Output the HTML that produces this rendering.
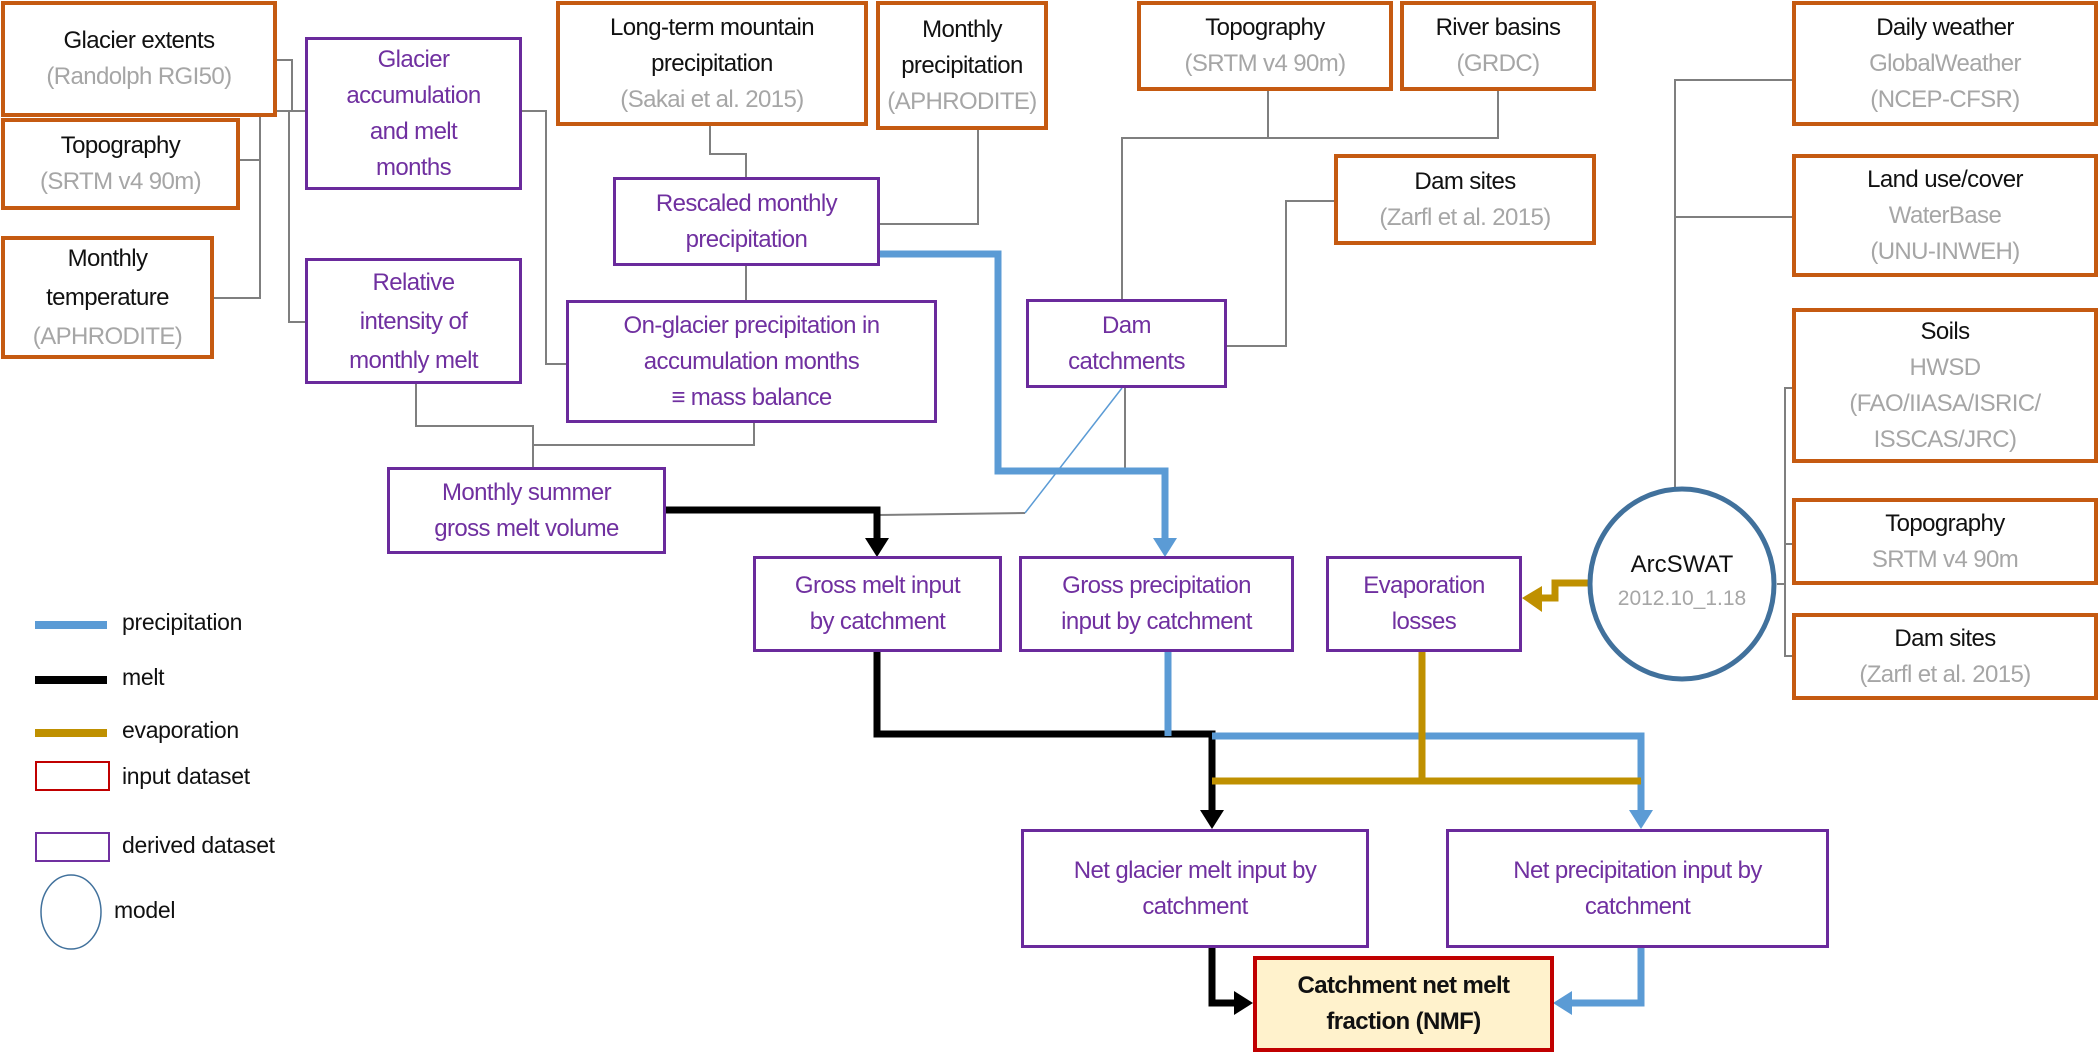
<!DOCTYPE html>
<html><head><meta charset="utf-8"><style>
body{margin:0;width:2100px;height:1050px;background:#fff;position:relative;overflow:hidden;font-family:"Liberation Sans",sans-serif}
.b{position:absolute;box-sizing:border-box;display:flex;flex-direction:column;align-items:center;justify-content:center;text-align:center;font-size:24px;line-height:36px;background:#fff;letter-spacing:-0.6px;white-space:nowrap}
.i{border:4px solid #c55a11;color:#111}
.d{border:3px solid #6a2a9c;color:#7030a0}
.g{color:#a6a6a6}
svg{position:absolute;left:0;top:0}
.lg{position:absolute;font-size:23px;color:#111;letter-spacing:-0.3px}
</style></head><body>
<svg width="2100" height="1050">
<g fill="none" stroke="#7f7f7f" stroke-width="2">
<polyline points="277,60 292,60 292,111 305,111"/>
<polyline points="240,160 260,160 260,111 292,111"/>
<polyline points="214,298 260,298 260,160"/>
<polyline points="289,111 289,322 305,322"/>
<polyline points="522,111 546,111 546,364 566,364"/>
<polyline points="710,126 710,154 746,154 746,177"/>
<polyline points="978,130 978,224 880,224"/>
<polyline points="746,266 746,300"/>
<polyline points="416,384 416,426 533,426 533,467"/>
<polyline points="754,423 754,445 533,445"/>
<polyline points="1268,91 1268,138"/>
<polyline points="1498,91 1498,138 1122,138 1122,299"/>
<polyline points="1334,201 1286,201 1286,346 1227,346"/>
<polyline points="1125,388 1125,471"/>
<polyline points="877,515 1025,513"/>
<polyline points="1792,80 1675,80 1675,490"/>
<polyline points="1675,217 1792,217"/>
<polyline points="1792,388 1785,388 1785,656 1792,656"/>
<polyline points="1777,584 1785,584"/>
<polyline points="1785,544 1792,544"/>
</g>
<line x1="1122" y1="388" x2="1025" y2="513" stroke="#5b9bd5" stroke-width="1.5"/>
<g fill="none" stroke-width="7">
<polyline stroke="#5b9bd5" points="880,254 998,254 998,471 1165,471 1165,540"/>
<polyline stroke="#000" points="666,510 877,510 877,540"/>
<polyline stroke="#000" points="877,652 877,734 1212,734 1212,812"/>
<polyline stroke="#5b9bd5" points="1168,652 1168,736"/>
<polyline stroke="#5b9bd5" points="1212,736 1641,736 1641,812"/>
<polyline stroke="#bf9000" points="1422,652 1422,781"/>
<polyline stroke="#bf9000" points="1212,781 1641,781"/>
<polyline stroke="#bf9000" points="1588,583 1555,583 1555,598 1540,598"/>
<polyline stroke="#000" points="1212,948 1212,1003 1236,1003"/>
<polyline stroke="#5b9bd5" points="1641,948 1641,1003 1570,1003"/>
</g>
<polygon fill="#5b9bd5" points="1153,538 1177,538 1165,557"/>
<polygon fill="#000" points="865,538 889,538 877,557"/>
<polygon fill="#000" points="1200,810 1224,810 1212,829"/>
<polygon fill="#5b9bd5" points="1629,810 1653,810 1641,829"/>
<polygon fill="#bf9000" points="1542,586 1542,612 1522,598"/>
<polygon fill="#000" points="1234,991 1234,1015 1253,1003"/>
<polygon fill="#5b9bd5" points="1572,991 1572,1015 1553,1003"/>
<ellipse cx="1682" cy="584" rx="92" ry="95" fill="#fff" stroke="#41719c" stroke-width="5"/>
<text x="1682" y="572" text-anchor="middle" font-family="Liberation Sans" font-size="24" fill="#111">ArcSWAT</text>
<text x="1682" y="605" text-anchor="middle" font-family="Liberation Sans" font-size="21" fill="#a6a6a6">2012.10_1.18</text>
<line x1="35" y1="625" x2="107" y2="625" stroke="#5b9bd5" stroke-width="8"/>
<line x1="35" y1="680" x2="107" y2="680" stroke="#000" stroke-width="8"/>
<line x1="35" y1="733" x2="107" y2="733" stroke="#bf9000" stroke-width="8"/>
<rect x="36" y="762" width="73" height="28" fill="none" stroke="#c00000" stroke-width="2"/>
<rect x="36" y="833" width="73" height="28" fill="none" stroke="#7030a0" stroke-width="2"/>
<ellipse cx="71" cy="912" rx="30" ry="37" fill="none" stroke="#41719c" stroke-width="1.5"/>
</svg>
<div class="lg" style="left:122px;top:609px">precipitation</div>
<div class="lg" style="left:122px;top:664px">melt</div>
<div class="lg" style="left:122px;top:717px">evaporation</div>
<div class="lg" style="left:122px;top:763px">input dataset</div>
<div class="lg" style="left:122px;top:832px">derived dataset</div>
<div class="lg" style="left:114px;top:897px">model</div>

<div class="b i" style="left:1px;top:1px;width:276px;height:116px">Glacier extents<span class="g">(Randolph RGI50)</span></div>
<div class="b i" style="left:1px;top:118px;width:239px;height:92px">Topography<span class="g">(SRTM v4 90m)</span></div>
<div class="b i" style="left:1px;top:236px;width:213px;height:123px;line-height:39px">Monthly<br>temperature<span class="g">(APHRODITE)</span></div>
<div class="b d" style="left:305px;top:37px;width:217px;height:153px;line-height:36px">Glacier<br>accumulation<br>and melt<br>months</div>
<div class="b d" style="left:305px;top:258px;width:217px;height:126px;line-height:39px">Relative<br>intensity of<br>monthly melt</div>
<div class="b i" style="left:556px;top:1px;width:312px;height:125px">Long-term mountain<br>precipitation<span class="g">(Sakai et al. 2015)</span></div>
<div class="b i" style="left:876px;top:1px;width:172px;height:129px">Monthly<br>precipitation<span class="g">(APHRODITE)</span></div>
<div class="b d" style="left:613px;top:177px;width:267px;height:89px">Rescaled monthly<br>precipitation</div>
<div class="b d" style="left:566px;top:300px;width:371px;height:123px">On-glacier precipitation in<br>accumulation months<br>≡ mass balance</div>
<div class="b d" style="left:387px;top:467px;width:279px;height:87px">Monthly summer<br>gross melt volume</div>
<div class="b i" style="left:1137px;top:1px;width:256px;height:90px">Topography<span class="g">(SRTM v4 90m)</span></div>
<div class="b i" style="left:1400px;top:1px;width:196px;height:90px">River basins<span class="g">(GRDC)</span></div>
<div class="b i" style="left:1334px;top:154px;width:262px;height:91px">Dam sites<span class="g">(Zarfl et al. 2015)</span></div>
<div class="b d" style="left:1026px;top:299px;width:201px;height:89px">Dam<br>catchments</div>
<div class="b i" style="left:1792px;top:1px;width:306px;height:125px">Daily weather<span class="g">GlobalWeather<br>(NCEP-CFSR)</span></div>
<div class="b i" style="left:1792px;top:154px;width:306px;height:123px">Land use/cover<span class="g">WaterBase<br>(UNU-INWEH)</span></div>
<div class="b i" style="left:1792px;top:308px;width:306px;height:155px">Soils<span class="g">HWSD<br>(FAO/IIASA/ISRIC/<br>ISSCAS/JRC)</span></div>
<div class="b i" style="left:1792px;top:498px;width:306px;height:87px">Topography<span class="g">SRTM v4 90m</span></div>
<div class="b i" style="left:1792px;top:613px;width:306px;height:87px">Dam sites<span class="g">(Zarfl et al. 2015)</span></div>
<div class="b d" style="left:753px;top:556px;width:249px;height:96px">Gross melt input<br>by catchment</div>
<div class="b d" style="left:1019px;top:556px;width:275px;height:96px">Gross precipitation<br>input by catchment</div>
<div class="b d" style="left:1326px;top:556px;width:196px;height:96px">Evaporation<br>losses</div>
<div class="b d" style="left:1021px;top:829px;width:348px;height:119px">Net glacier melt input by<br>catchment</div>
<div class="b d" style="left:1446px;top:829px;width:383px;height:119px">Net precipitation input by<br>catchment</div>
<div class="b" style="left:1253px;top:956px;width:301px;height:96px;border:4px solid #c00000;background:#fff2cc;color:#111;font-weight:bold">Catchment net melt<br>fraction (NMF)</div>
</body></html>
